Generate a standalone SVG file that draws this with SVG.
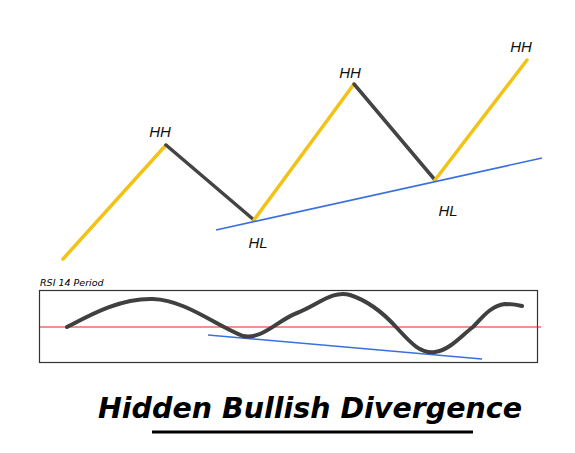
<svg xmlns="http://www.w3.org/2000/svg" width="575" height="453" viewBox="0 0 575 453">
<style>
.up{stroke:#f2c314;stroke-width:3.5;fill:none;stroke-linecap:round}
.dn{stroke:#444;stroke-width:3.5;fill:none;stroke-linecap:round}
.tr{stroke:#3a6fe0;stroke-width:1.6;fill:none}
.lbl{font-family:"Liberation Sans",Arial,sans-serif;font-style:italic;font-size:15px;fill:#111;text-anchor:middle}
</style>
<rect width="575" height="453" fill="#fff"/>
<g id="price">
<line class="up" x1="63" y1="259" x2="166" y2="145"/>
<line class="dn" x1="166" y1="145" x2="254" y2="220"/>
<line class="up" x1="254" y1="220" x2="354" y2="84"/>
<line class="dn" x1="354" y1="84" x2="435" y2="180"/>
<line class="up" x1="435" y1="180" x2="527" y2="60"/>
<line class="tr" x1="216" y1="230" x2="542" y2="158"/>
</g>
<g id="labels">
<text class="lbl" x="160" y="137">HH</text>
<text class="lbl" x="258" y="248">HL</text>
<text class="lbl" x="350" y="78">HH</text>
<text class="lbl" x="448" y="216">HL</text>
<text class="lbl" x="521" y="52">HH</text>
</g>
<g id="rsi">
<text x="40" y="286" font-family="'DejaVu Sans',sans-serif" font-style="italic" font-size="9.5" fill="#000">RSI 14 Period</text>
<rect x="39.5" y="290.5" width="498" height="72" fill="none" stroke="#333" stroke-width="1.2"/>
<line x1="40" y1="327" x2="541" y2="327" stroke="#e8211b" stroke-width="1"/>
<line class="tr" x1="208" y1="335" x2="482" y2="359"/>
<path d="M67,327 C90,315 120,298 153,299 C185,300 215,325 243,336 C262,340 278,320 297,313 C318,305 332,290 350,295 C372,302 388,318 397,328 C410,342 420,354 435,352 C450,350 462,335 473,327 C482,318 490,306 505,304 C512,304 518,305 522,306" fill="none" stroke="#404040" stroke-width="4" stroke-linecap="round" stroke-linejoin="round"/>
</g>
<g id="title">
<text x="98" y="418" font-family="'DejaVu Sans',sans-serif" font-style="italic" font-weight="bold" font-size="29" fill="#000" textLength="424" lengthAdjust="spacingAndGlyphs">Hidden Bullish Divergence</text>
<line x1="152" y1="432" x2="473" y2="432" stroke="#000" stroke-width="3"/>
</g>
</svg>
